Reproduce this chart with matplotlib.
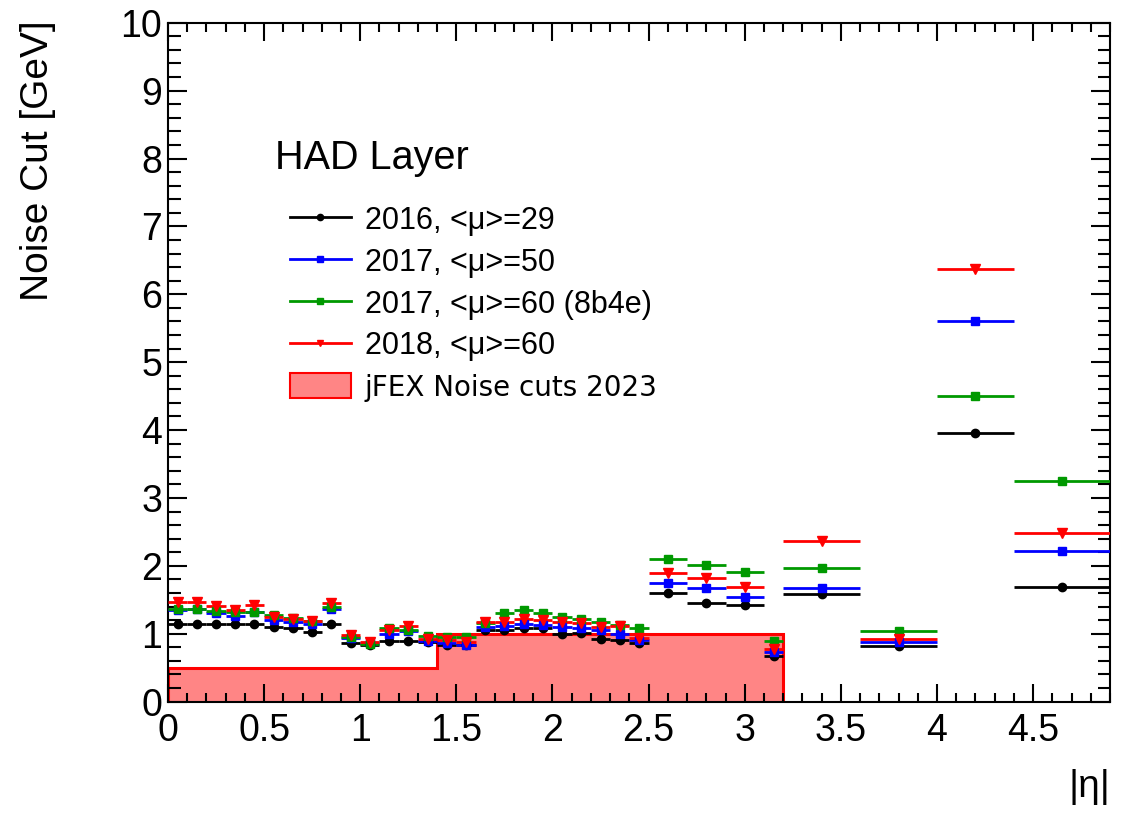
import numpy as np
import matplotlib.pyplot as plt
from matplotlib.ticker import MultipleLocator
from matplotlib.lines import Line2D
from matplotlib.patches import Patch

plt.rcParams['font.family'] = ['Liberation Sans', 'DejaVu Sans']

# eta bin edges
edges = np.array([0.0, 0.1, 0.2, 0.3, 0.4, 0.5, 0.6, 0.7, 0.8, 0.9, 1.0,
                  1.1, 1.2, 1.3, 1.4, 1.5, 1.6, 1.7, 1.8, 1.9, 2.0, 2.1,
                  2.2, 2.3, 2.4, 2.5, 2.7, 2.9, 3.1, 3.2, 3.6, 4.0, 4.4, 4.9])

cut_2016 = [1.15, 1.15, 1.14, 1.14, 1.14, 1.10, 1.09, 1.02, 1.14, 0.87,
            0.84, 0.90, 0.89, 0.88, 0.84, 0.83, 1.05, 1.06, 1.08, 1.08,
            0.99, 1.01, 0.92, 0.91, 0.86, 1.60, 1.45, 1.42, 0.67, 1.58,
            0.82, 3.95, 1.69]
cut_2017 = [1.35, 1.36, 1.31, 1.26, 1.32, 1.20, 1.18, 1.14, 1.36, 0.93,
            0.86, 1.00, 1.04, 0.89, 0.86, 0.83, 1.10, 1.11, 1.15, 1.13,
            1.10, 1.08, 1.05, 1.00, 0.91, 1.75, 1.67, 1.54, 0.73, 1.68,
            0.88, 5.60, 2.22]
cut_2017_8b4e = [1.36, 1.37, 1.33, 1.32, 1.32, 1.28, 1.23, 1.19, 1.40, 0.95,
                 0.85, 1.08, 1.06, 0.97, 0.95, 0.95, 1.16, 1.31, 1.35, 1.31,
                 1.25, 1.21, 1.18, 1.13, 1.09, 2.10, 2.01, 1.91, 0.90, 1.97,
                 1.04, 4.50, 3.25]
cut_2018 = [1.47, 1.47, 1.41, 1.35, 1.42, 1.25, 1.21, 1.19, 1.45, 0.98,
            0.88, 1.05, 1.11, 0.92, 0.91, 0.88, 1.17, 1.18, 1.21, 1.20,
            1.18, 1.16, 1.10, 1.11, 0.93, 1.90, 1.82, 1.69, 0.78, 2.37,
            0.92, 6.38, 2.48]

jfex_edges = [0.0, 1.4, 3.2]
jfex_cuts = [0.5, 1.0]

labels = ['2016, <μ>=29', '2017, <μ>=50', '2017, <μ>=60 (8b4e)', '2018, <μ>=60']

centers = 0.5 * (edges[1:] + edges[:-1])
halfw = 0.5 * (edges[1:] - edges[:-1])

fig = plt.figure(figsize=(11.27, 8.13), dpi=100)
ax = fig.add_axes([0.149, 0.137, 0.836, 0.835])

ax.stairs(jfex_cuts, jfex_edges, fill=True, color='#ff8585', zorder=1)
ax.stairs(jfex_cuts, jfex_edges, baseline=0, color='red', lw=2.2, zorder=1.5)

series = [(cut_2016, 'black', 'o', 6), (cut_2017, 'blue', 's', 5.8),
          (cut_2017_8b4e, '#009900', 's', 5.8), (cut_2018, 'red', 'v', 6.5)]
handles = []
for (vals, col, mk, ms), lab in zip(series, labels):
    ax.errorbar(centers, vals, xerr=halfw, fmt=mk, color=col, ms=ms,
                elinewidth=2.0, capsize=0, zorder=3)
    handles.append(Line2D([], [], color=col, marker=mk, ms=ms * 0.75, lw=2.0))

ax.set_xlim(0, 4.9)
ax.set_ylim(0, 10)
ax.xaxis.set_minor_locator(MultipleLocator(0.1))
ax.yaxis.set_major_locator(MultipleLocator(1))
ax.yaxis.set_minor_locator(MultipleLocator(0.2))
ax.set_xticks(np.arange(0, 4.9, 0.5))
ax.set_xticklabels(['0', '0.5', '1', '1.5', '2', '2.5', '3', '3.5', '4', '4.5'])
ax.tick_params(which='both', direction='in', top=True, right=True,
               labelsize=27, width=1.5)
ax.tick_params(axis='x', which='major', length=13, pad=8)
ax.tick_params(axis='x', which='minor', length=6.5)
ax.tick_params(axis='y', which='major', length=14, pad=4)
ax.tick_params(axis='y', which='minor', length=9)
for s in ax.spines.values():
    s.set_linewidth(1.5)

fig.text(0.034, 0.975, 'Noise Cut [GeV]', rotation=90, ha='center', va='top',
         fontsize=28)
fig.text(0.985, 0.01, '|η|', ha='right', va='bottom', fontsize=28)
fig.text(0.244, 0.806, 'HAD Layer', ha='left', va='center', fontsize=28.5)

patch = Patch(facecolor='#ff8585', edgecolor='red', lw=1.5)
leg = ax.legend(handles + [patch], labels + ['jFEX Noise cuts 2023'],
                loc='upper left', bbox_to_anchor=(0.257, 0.747),
                bbox_transform=fig.transFigure, frameon=False, fontsize=22,
                handlelength=2.0, handletextpad=0.45, labelspacing=0.39,
                handleheight=0.85, borderpad=0, borderaxespad=0)
leg.get_texts()[4].set_family('DejaVu Sans')
leg.get_texts()[4].set_fontsize(20)

fig.savefig('out.png', dpi=100)
